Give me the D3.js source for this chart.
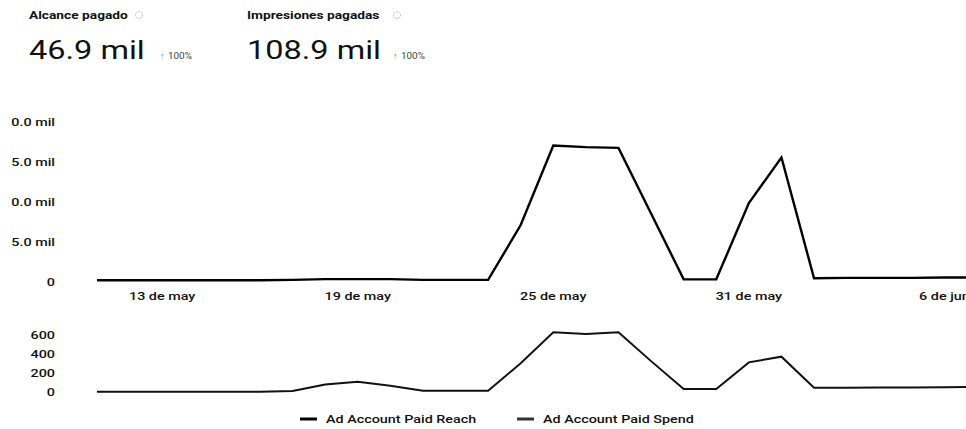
<!DOCTYPE html>
<html><head><meta charset="utf-8">
<script src="https://cdn.jsdelivr.net/npm/d3@7"></script>
<style>body{margin:0;background:#fff}svg{display:block;font-family:Roboto,"Noto Sans",sans-serif}</style>
</head><body>
<script>
const dates = ["2019-05-11","2019-05-12","2019-05-13","2019-05-14","2019-05-15","2019-05-16","2019-05-17","2019-05-18","2019-05-19","2019-05-20","2019-05-21","2019-05-22","2019-05-23","2019-05-24","2019-05-25","2019-05-26","2019-05-27","2019-05-28","2019-05-29","2019-05-30","2019-05-31","2019-06-01","2019-06-02","2019-06-03","2019-06-04","2019-06-05","2019-06-06","2019-06-07"];
const paidReach = [150,150,150,150,150,150,200,300,300,300,200,200,200,7060,17000,16800,16700,8500,270,270,9800,15500,400,450,450,450,500,500];
const paidSpend = [3,3,3,3,3,3,10,80,108,66,14,14,14,302,628,610,630,325,32,32,312,372,45,45,47,48,50,52];
const xTickDates = ["2019-05-13","2019-05-19","2019-05-25","2019-05-31","2019-06-06"];
const xTickLabels = ["13 de may","19 de may","25 de may","31 de may","6 de jun"];
const reachTicks = [0,5000,10000,15000,20000];
const reachTickLabels = ["0","5.0 mil","10.0 mil","15.0 mil","20.0 mil"];
const spendTicks = [0,200,400,600];
const spendTickLabels = ["0","200","400","600"];
const kpiTitles = ["Alcance pagado","Impresiones pagadas"];
const kpiValues = ["46.9 mil","108.9 mil"];
const kpiChanges = ["100%","100%"];
const seriesNames = ["Ad Account Paid Reach","Ad Account Paid Spend"];

const W=966,H=429, SX=1.25;
const parse = d3.utcParse("%Y-%m-%d");
const svg = d3.select("body").append("svg").attr("width",W).attr("height",H);
svg.append("defs").append("clipPath").attr("id","lc").append("rect").attr("x",11).attr("y",0).attr("width",W).attr("height",H);

function txt(g,x,y,s,opt){
  const t=g.append("text").attr("transform",`translate(${x},${y}) scale(${opt.sx||SX},1)`)
   .attr("text-anchor",opt.anchor||"start").attr("font-size",opt.size||12)
   .attr("font-weight",opt.weight||500).attr("fill",opt.fill||"#111").text(s);
  return t;
}

// KPI header
const kx=[29,247], kvW=[118,133];
kpiTitles.forEach((t,i)=>{
  txt(svg,kx[i],19,t,{size:11,weight:700});
  const tw = (i==0?101:141);
  svg.append("circle").attr("cx",kx[i]+tw+9).attr("cy",15).attr("r",3.5).attr("fill","none").attr("stroke","#bbb").attr("stroke-width",1).attr("stroke-dasharray","1.5,1");
  txt(svg,kx[i],59,kpiValues[i],{size:26,weight:400,sx:1.25});
  txt(svg,kx[i]+kvW[i]+13,59,"↑",{size:9,weight:400,fill:"#777",sx:1});
  txt(svg,kx[i]+kvW[i]+21,59,kpiChanges[i],{size:9,weight:400,fill:"#444",sx:1.1});
});

const x = d3.scaleUtc().domain([parse("2019-05-11"),parse("2019-06-07")]).range([97,977]);
const yR = d3.scaleLinear().domain([0,20000]).range([281.5,121.5]);
const yS = d3.scaleLinear().domain([0,600]).range([392,335]);

// y labels (left edge clipped as in the reference)
const ly = svg.append("g").attr("clip-path","url(#lc)");
reachTicks.forEach((v,i)=>txt(ly,55,yR(v)+4,reachTickLabels[i],{anchor:"end",size:11.5}));
spendTicks.forEach((v,i)=>txt(ly,55,yS(v)+4,spendTickLabels[i],{anchor:"end",size:11.5}));

// x labels
xTickDates.forEach((d,i)=>txt(svg,x(parse(d)),300,xTickLabels[i],{anchor:"middle",size:11.5}));

const line1 = d3.line().x((d,i)=>x(parse(dates[i]))).y(d=>yR(d));
svg.append("path").datum(paidReach).attr("d",line1).attr("fill","none").attr("stroke","#000").attr("stroke-width",2.4).attr("stroke-linejoin","miter");
const line2 = d3.line().x((d,i)=>x(parse(dates[i]))).y(d=>yS(d));
svg.append("path").datum(paidSpend).attr("d",line2).attr("fill","none").attr("stroke","#111").attr("stroke-width",2).attr("stroke-linejoin","miter");

// legend
const lgx=[300,517];
seriesNames.forEach((n,i)=>{
  svg.append("line").attr("x1",lgx[i]).attr("x2",lgx[i]+17).attr("y1",419).attr("y2",419).attr("stroke",i?"#333":"#000").attr("stroke-width",3);
  txt(svg,lgx[i]+26,423,n,{size:11.5});
});
</script>
</body></html>
